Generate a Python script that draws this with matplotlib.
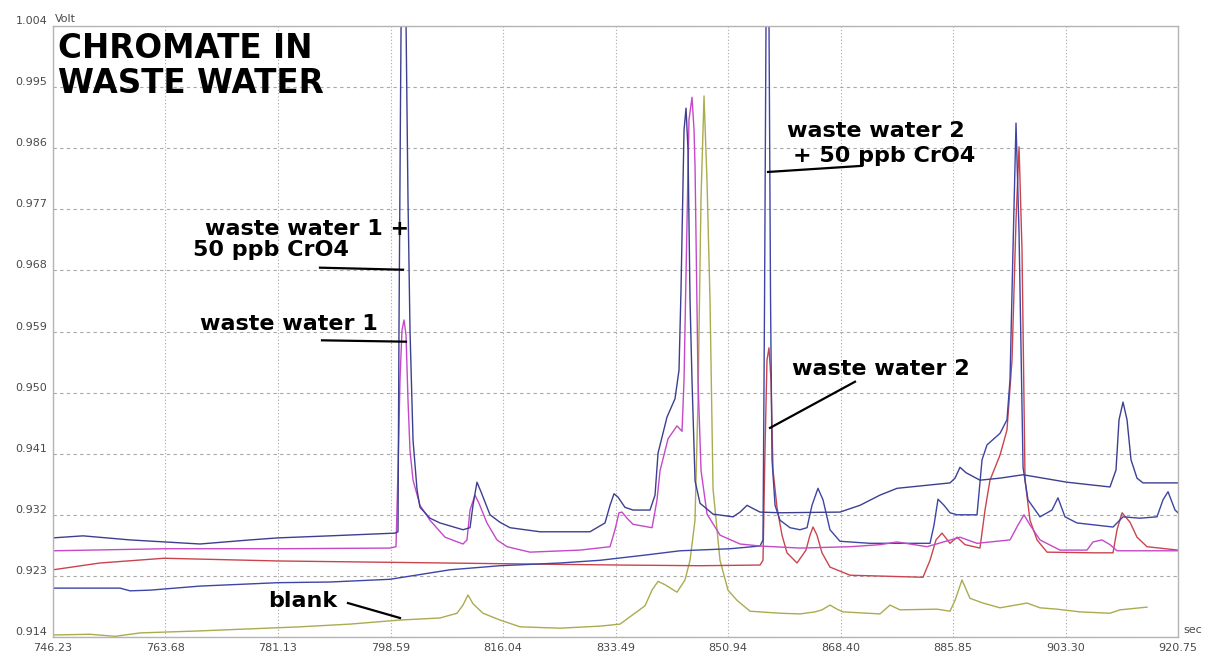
import numpy as np
import matplotlib.pyplot as plt

# Retention time (sec) / signal (Volt) for each chromatogram
t_ww1_spk = [746.23, 750.88, 758.18, 769.03, 776.79, 781.13, 789.20, 799.28, 799.75, 799.90, 800.14,
             800.37, 800.68, 800.99, 801.30, 801.61, 802.08, 802.70, 803.16, 804.71, 806.26, 809.83,
             810.92, 811.38, 812.00, 812.62, 814.02, 815.57, 817.12, 821.78, 829.53, 831.86, 832.64,
             833.26, 833.88, 834.96, 836.21, 838.84, 839.62, 840.09, 841.48, 842.72, 843.34, 843.65,
             844.12, 844.43, 844.74, 845.05, 845.36, 845.83, 846.60, 848.62, 851.72, 852.81, 853.90,
             854.67, 855.91, 859.01, 868.31, 871.42, 874.52, 877.16, 885.38, 886.16, 886.93, 887.86,
             890.03, 893.14, 896.71, 903.53, 910.20, 911.13, 911.60, 912.22, 912.84, 913.46, 914.39,
             915.32, 920.75]
v_ww1_spk = [0.9286, 0.9289, 0.9283, 0.9277, 0.9283, 0.9286, 0.9289, 0.9293, 0.9295, 0.9592, 0.9931,
             1.0226, 1.0255, 1.0049, 0.9784, 0.9592, 0.9430, 0.9357, 0.9331, 0.9315, 0.9308, 0.9298,
             0.9301, 0.9334, 0.9368, 0.9354, 0.9320, 0.9309, 0.9301, 0.9295, 0.9295, 0.9308, 0.9334,
             0.9351, 0.9346, 0.9331, 0.9327, 0.9327, 0.9349, 0.9411, 0.9464, 0.9491, 0.9533, 0.9651,
             0.9887, 0.9919, 0.9857, 0.9636, 0.9517, 0.9370, 0.9337, 0.9321, 0.9317, 0.9324, 0.9334,
             0.9330, 0.9324, 0.9323, 0.9324, 0.9334, 0.9349, 0.9359, 0.9367, 0.9374, 0.9390, 0.9382,
             0.9371, 0.9374, 0.9379, 0.9368, 0.9361, 0.9386, 0.9460, 0.9486, 0.9460, 0.9401, 0.9374,
             0.9367, 0.9367]

t_ww1 = [746.23, 763.45, 781.13, 798.51, 799.44, 799.75, 800.06, 800.37, 800.68, 800.99, 801.30,
         801.61, 802.08, 803.16, 804.71, 807.04, 809.83, 810.45, 810.92, 811.69, 812.31, 813.55,
         815.10, 816.66, 820.22, 827.98, 832.64, 833.41, 834.03, 834.50, 835.27, 836.21, 839.16,
         839.93, 840.40, 841.64, 843.03, 843.81, 844.12, 844.43, 844.89, 845.36, 845.67, 845.83,
         846.29, 846.76, 847.69, 849.71, 852.81, 855.91, 862.11, 869.87, 874.52, 877.16, 881.81,
         886.93, 889.57, 894.69, 895.93, 896.86, 897.79, 899.34, 902.44, 906.63, 907.56, 908.96,
         910.20, 911.29, 920.75]
v_ww1 = [0.9267, 0.9270, 0.9270, 0.9271, 0.9273, 0.9386, 0.9519, 0.9592, 0.9607, 0.9585, 0.9489,
         0.9415, 0.9371, 0.9334, 0.9312, 0.9287, 0.9277, 0.9283, 0.9327, 0.9349, 0.9337, 0.9308,
         0.9283, 0.9273, 0.9265, 0.9268, 0.9273, 0.9298, 0.9323, 0.9324, 0.9315, 0.9306, 0.9301,
         0.9342, 0.9385, 0.9432, 0.9451, 0.9443, 0.9519, 0.9675, 0.9902, 0.9935, 0.9887, 0.9832,
         0.9517, 0.9385, 0.9321, 0.9290, 0.9277, 0.9274, 0.9271, 0.9273, 0.9276, 0.9280, 0.9273,
         0.9287, 0.9278, 0.9283, 0.9305, 0.9320, 0.9305, 0.9283, 0.9268, 0.9268, 0.9280, 0.9283,
         0.9276, 0.9267, 0.9267]

t_ww2_spk = [746.23, 756.62, 758.18, 761.28, 769.03, 781.13, 789.20, 798.51, 807.82, 815.57, 824.88,
             831.09, 838.38, 843.50, 851.25, 855.91, 856.37, 856.61, 856.84, 857.07, 857.30, 857.54,
             857.77, 858.24, 859.01, 860.56, 862.11, 863.20, 863.97, 864.90, 865.68, 866.76, 868.31,
             872.97, 882.28, 882.90, 883.52, 884.45, 885.38, 886.47, 889.57, 890.35, 891.12, 893.14,
             894.22, 894.69, 895.15, 895.62, 896.09, 896.71, 897.48, 899.34, 901.20, 902.13, 903.22,
             905.08, 910.67, 912.22, 914.86, 917.49, 918.42, 919.20, 920.29, 920.75]
v_ww2_spk = [0.9212, 0.9212, 0.9208, 0.9209, 0.9215, 0.9220, 0.9221, 0.9225, 0.9239, 0.9245, 0.9249,
             0.9253, 0.9261, 0.9267, 0.9270, 0.9274, 0.9283, 0.9636, 1.0049, 1.0299, 1.0049, 0.9636,
             0.9401, 0.9334, 0.9312, 0.9301, 0.9298, 0.9301, 0.9334, 0.9359, 0.9342, 0.9298, 0.9281,
             0.9278, 0.9278, 0.9305, 0.9343, 0.9334, 0.9323, 0.9320, 0.9320, 0.9401, 0.9423, 0.9440,
             0.9460, 0.9519, 0.9710, 0.9897, 0.9735, 0.9390, 0.9342, 0.9317, 0.9327, 0.9345, 0.9317,
             0.9308, 0.9302, 0.9317, 0.9315, 0.9317, 0.9342, 0.9354, 0.9327, 0.9323]

t_ww2 = [746.23, 753.52, 763.45, 781.13, 798.51, 815.57, 834.19, 846.60, 855.91, 856.37, 856.68,
         856.99, 857.30, 857.61, 857.92, 858.54, 859.32, 860.09, 861.65, 863.04, 863.66, 864.13,
         864.75, 865.52, 866.76, 869.87, 881.19, 882.28, 883.21, 884.14, 885.38, 886.47, 887.71,
         890.03, 890.81, 891.58, 893.14, 894.22, 895.00, 895.62, 896.09, 896.55, 897.02, 897.79,
         898.88, 900.43, 907.56, 910.67, 911.29, 912.07, 913.31, 914.39, 915.94, 920.75]
v_ww2 = [0.9239, 0.9249, 0.9256, 0.9252, 0.9250, 0.9248, 0.9246, 0.9245, 0.9246, 0.9253, 0.9415,
         0.9548, 0.9566, 0.9519, 0.9386, 0.9331, 0.9290, 0.9264, 0.9249, 0.9268, 0.9290, 0.9302,
         0.9290, 0.9264, 0.9243, 0.9231, 0.9228, 0.9253, 0.9283, 0.9293, 0.9278, 0.9287, 0.9276,
         0.9271, 0.9327, 0.9371, 0.9408, 0.9445, 0.9548, 0.9754, 0.9862, 0.9710, 0.9371, 0.9312,
         0.9283, 0.9265, 0.9264, 0.9264, 0.9298, 0.9323, 0.9309, 0.9287, 0.9273, 0.9268]

t_blank = [746.23, 751.97, 755.85, 759.73, 769.03, 776.79, 784.55, 792.30, 800.06, 806.26, 808.90,
           809.83, 810.61, 811.38, 812.94, 815.57, 818.68, 824.88, 831.09, 834.19, 838.07, 839.15,
           840.09, 841.17, 843.03, 844.27, 845.05, 845.82, 846.29, 846.75, 847.22, 847.68, 848.15,
           848.62, 849.24, 849.70, 850.94, 852.34, 854.36, 859.01, 862.11, 864.44, 865.52, 866.77,
           867.85, 868.78, 874.52, 876.07, 877.62, 883.36, 885.38, 886.16, 887.24, 888.48, 890.50,
           893.14, 897.33, 899.34, 901.98, 905.55, 910.20, 911.75, 915.94]
v_blank = [0.9143, 0.9144, 0.9141, 0.9146, 0.9149, 0.9152, 0.9155, 0.9159, 0.9165, 0.9168, 0.9175,
           0.9187, 0.9202, 0.9189, 0.9175, 0.9165, 0.9155, 0.9153, 0.9156, 0.9159, 0.9186, 0.9209,
           0.9222, 0.9217, 0.9206, 0.9224, 0.9253, 0.9312, 0.9489, 0.9784, 0.9937, 0.9813, 0.9636,
           0.9358, 0.9298, 0.9253, 0.9209, 0.9194, 0.9178, 0.9175, 0.9174, 0.9177, 0.9180, 0.9187,
           0.9181, 0.9177, 0.9174, 0.9187, 0.9180, 0.9181, 0.9178, 0.9194, 0.9224, 0.9197, 0.9190,
           0.9183, 0.9190, 0.9183, 0.9181, 0.9177, 0.9175, 0.9180, 0.9184]

x_ticks = [746.23, 763.68, 781.13, 798.59, 816.04, 833.49, 850.94, 868.40, 885.85, 903.30, 920.75]
y_ticks = [0.914, 0.923, 0.932, 0.941, 0.950, 0.959, 0.968, 0.977, 0.986, 0.995, 1.004]

fig = plt.figure(figsize=(12.06, 6.55), dpi=100)
ax = fig.add_axes([0.04395, 0.02748, 0.93284, 0.93282])

lw = 1.0
ax.plot(t_blank, v_blank, color='#acab4f', lw=lw)
ax.plot(t_ww2, v_ww2, color='#c9454e', lw=lw)
ax.plot(t_ww2_spk, v_ww2_spk, color='#3d45a5', lw=lw)
ax.plot(t_ww1, v_ww1, color='#c548c8', lw=lw)
ax.plot(t_ww1_spk, v_ww1_spk, color='#3c3f8f', lw=lw)

ax.set_xlim(x_ticks[0], x_ticks[-1])
ax.set_ylim(y_ticks[0], y_ticks[-1])
ax.set_xticks(x_ticks)
ax.set_xticklabels([f"{v:.2f}" for v in x_ticks])
ax.set_yticks(y_ticks)
ax.set_yticklabels([f"{v:.3f}" for v in y_ticks])
for lab in ax.get_yticklabels():
    lab.set_va('bottom')
ax.tick_params(axis='both', length=0, labelsize=8, labelcolor='#4a4a4a')
ax.tick_params(axis='x', pad=4)
ax.tick_params(axis='y', pad=4)

# grilla: horizontales a trazos, verticales punteadas
ax.yaxis.grid(True, color='#a8a8a8', lw=0.8, linestyle=(0, (3, 3)))
ax.xaxis.grid(True, color='#a8a8a8', lw=0.8, linestyle=(0, (1, 2)))
ax.set_axisbelow(True)
for s in ax.spines.values():
    s.set_color('#b4b4b4')
    s.set_linewidth(1.0)

ax.text(0.002, 1.0115, "Volt", transform=ax.transAxes, fontsize=8, color='#4a4a4a', va='center')
ax.text(1.0044, 0.0115, "sec", transform=ax.transAxes, fontsize=8, color='#4a4a4a', va='center')

# titulo y etiquetas
tkw = dict(fontsize=23.5, fontweight='bold', color='black', va='baseline', ha='left', family='DejaVu Sans')
ax.text(747.01, 0.9993, "CHROMATE IN", **tkw)
ax.text(747.01, 0.9941, "WASTE WATER", **tkw)

lkw = dict(fontsize=16, fontweight='bold', color='black', va='baseline', ha='left', family='DejaVu Sans')
ax.text(769.81, 0.9732, "waste water 1 +", **lkw)
ax.text(767.95, 0.9701, "50 ppb CrO4", **lkw)
ax.text(769.03, 0.9592, "waste water 1", **lkw)
ax.text(860.09, 0.9877, "waste water 2", **lkw)
ax.text(861.03, 0.9840, "+ 50 ppb CrO4", **lkw)
ax.text(860.87, 0.9526, "waste water 2", **lkw)
ax.text(779.58, 0.9184, "blank", **lkw)

akw = dict(color='black', lw=1.6)
ax.plot([787.65, 800.53], [0.9684, 0.9681], **akw)
ax.plot([787.96, 800.99], [0.9577, 0.9575], **akw)
ax.plot([857.15, 871.73], [0.9825, 0.9834], **akw)
ax.plot([857.46, 870.64], [0.9448, 0.9516], **akw)
ax.plot([791.99, 800.06], [0.9190, 0.9168], **akw)

fig.savefig("out.png", dpi=100)
